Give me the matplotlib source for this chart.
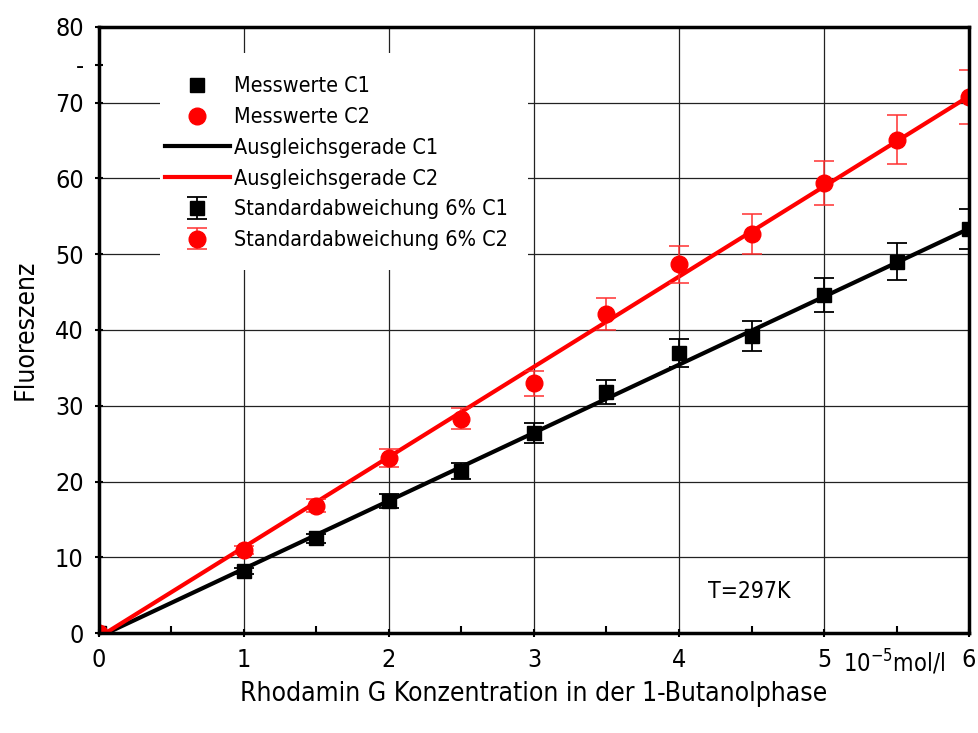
import matplotlib
matplotlib.use("Agg")
import matplotlib.pyplot as plt
from matplotlib.patches import Rectangle
import numpy as np

plt.rcParams['font.family'] = ['DejaVu Sans']
plt.rcParams['font.stretch'] = 'condensed'

# ---- data ------------------------------------------------------------------
conc = [0, 1, 1.5, 2, 2.5, 3, 3.5, 4, 4.5, 5, 5.5, 6]
fl_c1 = [0, 8.2, 12.5, 17.4, 21.4, 26.4, 31.8, 37.0, 39.2, 44.6, 49.0, 53.3]
fl_c2 = [0, 11.0, 16.8, 23.1, 28.3, 33.0, 42.1, 48.7, 52.7, 59.4, 65.1, 70.8]
err_c1 = [0, 0.4, 0.6, 0.9, 1.1, 1.3, 1.6, 1.85, 1.95, 2.2, 2.45, 2.65]
err_c2 = [0, 0.55, 0.85, 1.15, 1.4, 1.65, 2.1, 2.45, 2.65, 2.95, 3.25, 3.55]

# fit lines (slope, intercept)
fit_c1 = (8.98, -0.5)
fit_c2 = (11.9, -0.55)

FS_TICK = 18
FS_LAB = 19
FS_LEG = 15.5

# ---- figure ----------------------------------------------------------------
fig = plt.figure(figsize=(9.79, 7.33), dpi=100)
ax = fig.add_axes([0.1011, 0.1364, 0.8887, 0.8268])

ax.grid(True, color="#222222", lw=0.9, zorder=0)

# white block behind the legend (hides grid lines like the original)
ax.add_patch(Rectangle((0.070, 0.599), 0.423, 0.358, transform=ax.transAxes,
                       facecolor="white", edgecolor="none", zorder=2))

xs = np.array([0, 6.2])
l1, = ax.plot(xs, fit_c1[0] * xs + fit_c1[1], color="black", lw=3, zorder=3)
l2, = ax.plot(xs, fit_c2[0] * xs + fit_c2[1], color="red", lw=3, zorder=3)

e1 = ax.errorbar(conc, fl_c1, yerr=err_c1, fmt="s", color="black", ms=10,
                 ecolor="black", elinewidth=1.3, capsize=7, capthick=1.3, zorder=4)
e2 = ax.errorbar(conc, fl_c2, yerr=err_c2, fmt="o", color="red", ms=12,
                 ecolor="#ff3030", elinewidth=1.1, capsize=7, capthick=1.1, zorder=4)

m1, = ax.plot([], [], "s", color="black", ms=10)
m2, = ax.plot([], [], "o", color="red", ms=12)

ax.set_xlim(0, 6)
ax.set_ylim(0, 80)
ax.set_xticks([0, 1, 2, 3, 4, 5, 6])
ax.set_xticks([0.5, 1.5, 2.5, 3.5, 4.5, 5.5], minor=True)
ax.set_yticks([0, 10, 20, 30, 40, 50, 60, 70, 75, 80])
ax.set_yticklabels(["0", "10", "20", "30", "40", "50", "60", "70", "-", "80"])
for i in (0, 8, 9):
    ax.yaxis.get_gridlines()[i].set_visible(False)
for i in (0, 6):
    ax.xaxis.get_gridlines()[i].set_visible(False)

ax.tick_params(axis="both", which="major", direction="inout", length=6, width=1.5,
               labelsize=FS_TICK, pad=8)
ax.tick_params(axis="x", which="minor", direction="in", length=5, width=1.5)

for s in ax.spines.values():
    s.set_linewidth(2.5)
    s.set_zorder(6)

ax.set_xlabel("Rhodamin G Konzentration in der 1-Butanolphase", fontsize=FS_LAB, labelpad=6)
ax.set_ylabel("Fluoreszenz", fontsize=FS_LAB, labelpad=12)

ax.text(5.13, -1.9, "10$^{-5}$mol/l", fontsize=FS_TICK - 1, ha="left", va="top")
ax.text(4.2, 5.5, "T=297K", fontsize=16.5, ha="left", va="center")

leg = ax.legend([m1, m2, l1, l2, e1, e2],
                ["Messwerte C1", "Messwerte C2", "Ausgleichsgerade C1",
                 "Ausgleichsgerade C2", "Standardabweichung 6% C1",
                 "Standardabweichung 6% C2"],
                loc="upper left", bbox_to_anchor=(0.056, 0.947), fontsize=FS_LEG,
                frameon=False, handlelength=3.0, handletextpad=0.2,
                labelspacing=0.5, borderpad=0.3)
leg.set_zorder(5)

fig.savefig("out.png", dpi=100)
